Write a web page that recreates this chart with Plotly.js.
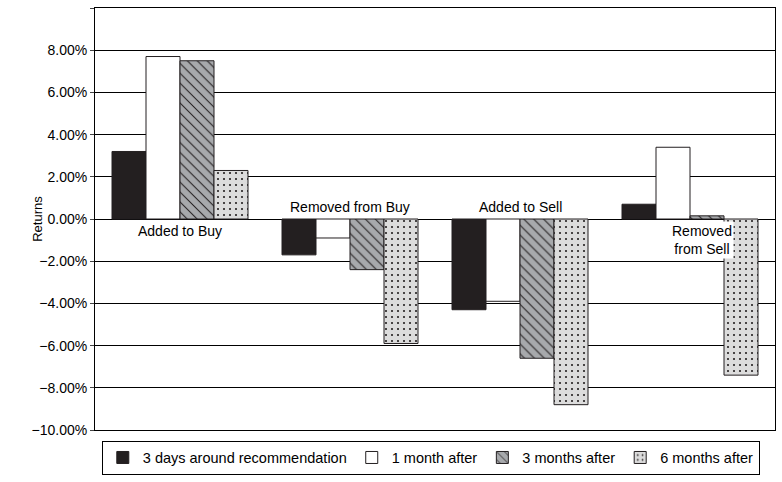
<!DOCTYPE html><html><head><script src="https://cdn.plot.ly/plotly-3.0.0.min.js"></script></head><body style="margin:0"><div id="c" style="width:782px;height:482px"></div><script>
const categories=["Added to Buy","Removed from Buy","Added to Sell","Removed from Sell"];
const seriesNames=["3 days around recommendation","1 month after","3 months after","6 months after"];
const threeDays=[0.032,-0.017,-0.043,0.007];
const oneMonth=[0.077,-0.009,-0.039,0.034];
const threeMonths=[0.075,-0.024,-0.066,0.0015];
const sixMonths=[0.023,-0.059,-0.088,-0.074];
const yTicks=[-0.1,-0.08,-0.06,-0.04,-0.02,0,0.02,0.04,0.06,0.08,0.1];
const styles=[{color:'#231f20',pattern:{shape:''}},{color:'#ffffff',pattern:{shape:''}},{color:'#a7a9ac',pattern:{shape:'\\',fgcolor:'#231f20',bgcolor:'#a7a9ac',size:7,solidity:0.15}},{color:'#dcdcdc',pattern:{shape:'.',fgcolor:'#231f20',bgcolor:'#dcdcdc',size:6,solidity:0.1}}];
const data=[threeDays,oneMonth,threeMonths,sixMonths].map((v,i)=>({type:'bar',name:seriesNames[i],x:categories,y:v,marker:{color:styles[i].color,pattern:styles[i].pattern,line:{color:'#231f20',width:1}}}));
const layout={width:782,height:482,margin:{l:95,r:7,t:8,b:45},barmode:'group',bargap:0.2,bargroupgap:0,
font:{family:'Liberation Sans, Arial',size:14,color:'#000'},plot_bgcolor:'#fff',paper_bgcolor:'#fff',
xaxis:{showticklabels:false,showline:true,linecolor:'#000',mirror:true,ticks:''},
yaxis:{range:[-0.1,0.1],tickvals:yTicks,tickformat:'.2%',showgrid:true,gridcolor:'#000',gridwidth:1,showline:true,linecolor:'#000',mirror:true,ticks:'outside',ticklen:4,zeroline:true,zerolinecolor:'#000',title:{text:'Returns',font:{size:13}}},
legend:{orientation:'h',x:0.01,y:-0.025,yanchor:'top',xanchor:'left',bordercolor:'#000',borderwidth:1,font:{size:14.5},traceorder:'normal'},
annotations:[
{x:categories[0],y:-0.001,text:'Added to Buy',showarrow:false,yanchor:'top',font:{size:14}},
{x:categories[1],y:0.001,text:'Removed from Buy',showarrow:false,yanchor:'bottom',font:{size:14}},
{x:categories[2],y:0.001,text:'Added to Sell',showarrow:false,yanchor:'bottom',font:{size:14}},
{x:categories[3],y:-0.001,text:'Removed<br>from Sell',showarrow:false,yanchor:'top',xshift:12,font:{size:14},bgcolor:'#fff'}]};
Plotly.newPlot('c',data,layout,{displayModeBar:false});
</script></body></html>
